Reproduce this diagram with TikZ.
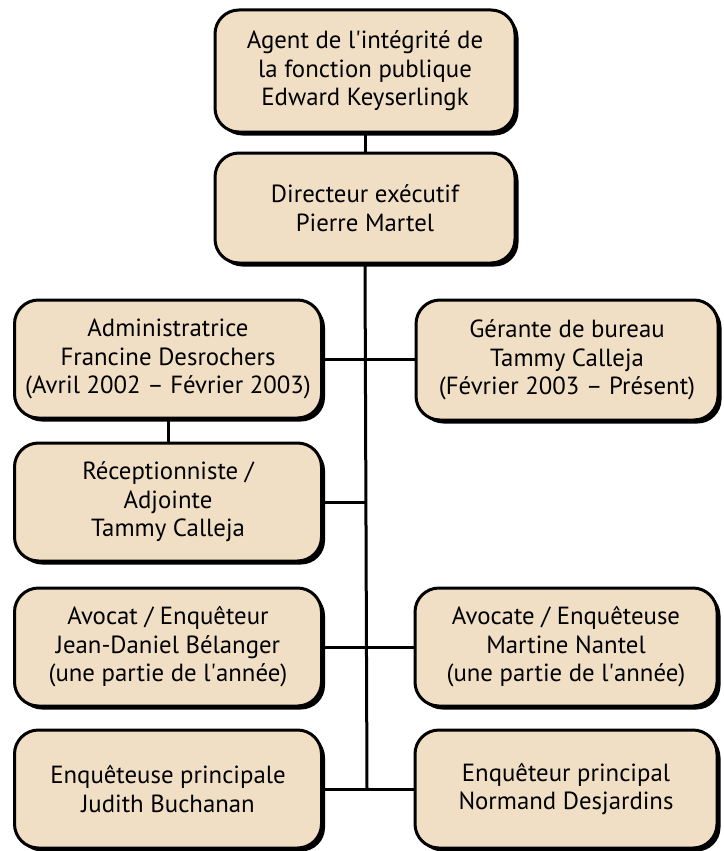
\documentclass[tikz,border=0pt]{standalone}
\usepackage{fontspec}
\setmainfont{PT Sans}
\usepackage{tikz}
\usetikzlibrary{shapes,shadows,calc}
\definecolor{boxfill}{RGB}{240,223,196}

\begin{document}
\begin{tikzpicture}[x=1pt, y=-1pt]
    \tikzstyle{every node}=[rectangle, rounded corners=24pt,
				% The border:
				draw=black, line width=3pt,
				% The filling:
				fill=boxfill,
				drop shadow={shadow xshift=3.5pt, shadow yshift=-3.5pt, fill=black, opacity=1},
				align=center, inner sep=0pt,
				font=\fontsize{24.8}{28.5}\selectfont
					]
    \tikzstyle{link}=[draw=black, line width=3pt]
    \useasboundingbox (0,0) rectangle (723,851);
    % Top of the chart
    \node[minimum width=300pt, minimum height=122pt] (agent) at (365,71)
        {Agent de l\textquotesingle intégrité de\\la fonction publique\\Edward Keyserlingk};
    \node[minimum width=300pt, minimum height=110pt] (directeur) at (365,208)
        {Directeur exécutif\\Pierre Martel};
    % Left column
    \node[minimum width=307pt, minimum height=118pt] (admin) at (168,359)
        {Administratrice\\Francine Desrochers\\(Avril 2002 -- Février 2003)};
    \node[minimum width=307pt, minimum height=118pt] (recept) at (168,502)
        {Réceptionniste /\\Adjointe\\Tammy Calleja};
    \node[minimum width=307pt, minimum height=118pt] (avocat) at (168,647)
        {Avocat / Enquêteur\\Jean-Daniel Bélanger\\(une partie de l\textquotesingle année)};
    \node[minimum width=307pt, minimum height=118pt] (enqf) at (168,789)
        {Enquêteuse principale\\Judith Buchanan};
    % Right column
    \node[minimum width=302pt, minimum height=120pt] (gerante) at (567,360)
        {Gérante de bureau\\Tammy Calleja\\(Février 2003 -- Présent)};
    \node[minimum width=302pt, minimum height=118pt] (avocate) at (566,647)
        {Avocate / Enquêteuse\\Martine Nantel\\(une partie de l\textquotesingle année)};
    \node[minimum width=302pt, minimum height=118pt] (enqm) at (566,789)
        {Enquêteur principal\\Normand Desjardins};
    % Connectors
    \coordinate (trunkend) at (367,789);
    \draw[link] (agent.south) -- (directeur.north);
    \draw[link] (directeur.south) -- (trunkend);
    \draw[link] (admin.east) -- (admin.east -| gerante.west);
    \draw[link] (admin.south) -- (recept.north);
    \draw[link] (recept.east) -- (recept.east -| trunkend);
    \draw[link] (avocat.east) -- (avocate.west);
    \draw[link] (enqf.east) -- (enqm.west);
\end{tikzpicture}
\end{document}
